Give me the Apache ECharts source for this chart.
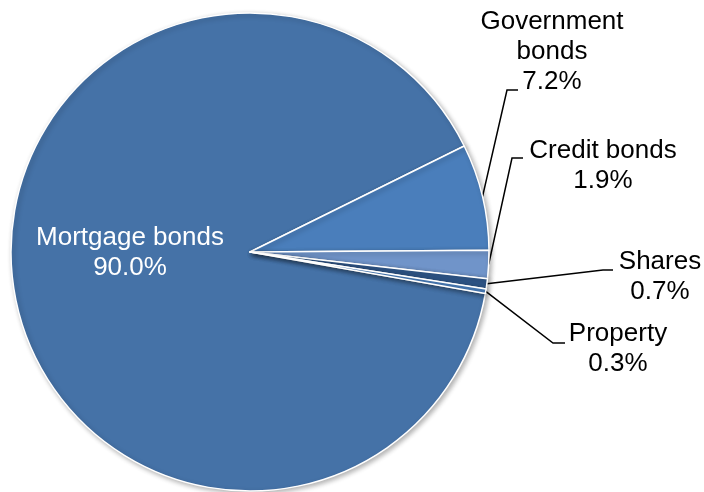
<!DOCTYPE html>
<html>
<head>
<meta charset="utf-8">
<script src="https://cdn.jsdelivr.net/npm/echarts@6/dist/echarts.min.js"></script>
<style>
  html, body { margin: 0; padding: 0; background: #fff; }
  #chart { width: 704px; height: 492px; }
</style>
</head>
<body>
<div id="chart"></div>
<script>
// data
const categories = ['Mortgage bonds', 'Government bonds', 'Credit bonds', 'Shares', 'Property'];
const shares = [90.0, 7.2, 1.9, 0.7, 0.3];
const sliceColors = ['#4572a7', '#4a7ebb', '#7094c9', '#2f5688', '#4a7ebb'];

// where each label block sits, and the bend of its leader line
const labelPos = [[130, 253], [552, 52], [603, 166], [660, 277], [618, 349]];
const bendPos = [null, [507, 90], [512, 158], [603, 270], [553, 343]];
const lineEnd = [null, [518, 90], [523, 158], [613, 270], [565, 343]];

const chart = echarts.init(document.getElementById('chart'));

chart.setOption({
  backgroundColor: '#fff',
  animation: false,
  series: [{
    type: 'pie',
    center: [250, 252],
    radius: 239,
    startAngle: 350,
    clockwise: true,
    avoidLabelOverlap: false,
    itemStyle: {
      borderColor: '#fff',
      borderWidth: 1.5,
      shadowBlur: 5,
      shadowColor: 'rgba(0,0,0,0.3)',
      shadowOffsetX: 2,
      shadowOffsetY: 2
    },
    label: {
      position: 'outside',
      fontFamily: 'Liberation Sans, Arial, sans-serif',
      fontSize: 26,
      lineHeight: 30,
      color: '#000',
      align: 'center',
      formatter: p => (p.name === 'Government bonds' ? 'Government\nbonds' : p.name) +
        '\n' + p.value.toFixed(1) + '%'
    },
    labelLine: {
      show: true,
      lineStyle: { color: '#000', width: 1.5 }
    },
    labelLayout: p => {
      const i = p.dataIndex;
      const out = { x: labelPos[i][0], y: labelPos[i][1], align: 'center', verticalAlign: 'middle' };
      if (i > 0 && p.labelLinePoints) {
        out.labelLinePoints = [p.labelLinePoints[0], bendPos[i], lineEnd[i]];
      }
      return out;
    },
    data: categories.map((name, i) => ({
      name: name,
      value: shares[i],
      itemStyle: { color: sliceColors[i] },
      label: i === 0 ? { position: 'inside', color: '#fff' } : undefined,
      labelLine: i === 0 ? { show: false } : undefined
    }))
  }]
});
</script>
</body>
</html>
